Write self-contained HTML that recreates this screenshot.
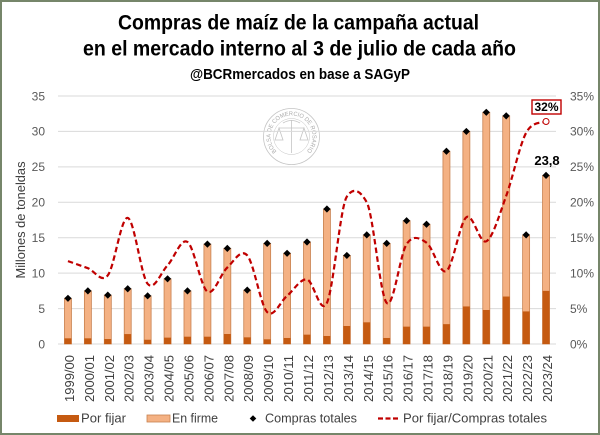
<!DOCTYPE html>
<html><head><meta charset="utf-8"><style>
html,body{margin:0;padding:0;background:#fff;}
svg{display:block;}
text{font-family:"Liberation Sans",Arial,sans-serif;}
</style></head><body>
<svg width="600" height="435" viewBox="0 0 600 435" xmlns="http://www.w3.org/2000/svg">
<rect x="0" y="0" width="600" height="435" fill="#fff"/>
<rect x="1" y="1" width="598" height="433" fill="none" stroke="#76866A" stroke-width="2"/>

<!-- Title -->
<text x="118" y="29.5" font-size="21" font-weight="bold" fill="#000" textLength="361" lengthAdjust="spacingAndGlyphs">Compras de maíz de la campaña actual</text>
<text x="83" y="55.5" font-size="21" font-weight="bold" fill="#000" textLength="433" lengthAdjust="spacingAndGlyphs">en el mercado interno al 3 de julio de cada año</text>
<text x="190" y="79" font-size="15" font-weight="bold" fill="#000" textLength="220" lengthAdjust="spacingAndGlyphs">@BCRmercados en base a SAGyP</text>

<!-- Watermark -->
<g fill="none" stroke="#C4C4C4" stroke-width="0.8">
<circle cx="291.5" cy="136.5" r="28"/>
<circle cx="291.5" cy="136.5" r="18" stroke-width="0.5"/>
<line x1="291.5" y1="120" x2="291.5" y2="153"/>
<line x1="279" y1="128" x2="304" y2="128"/>
<path d="M279 128 L275 140 L283 140 Z M304 128 L300 140 L308 140 Z"/>
<path d="M283 123 Q291.5 118 300 123"/>
</g>
<defs><path id="wm" d="M276.66 151.35 A21 21 0 1 1 306.34 151.35"/></defs>
<text font-size="6" fill="#ABABAB"><textPath href="#wm" textLength="98" lengthAdjust="spacingAndGlyphs">BOLSA DE COMERCIO DE ROSARIO</textPath></text>

<!-- Grid -->
<g stroke="#D9D9D9" stroke-width="1">
<line x1="58" y1="96" x2="556" y2="96"/>
<line x1="58" y1="131.43" x2="556" y2="131.43"/>
<line x1="58" y1="166.86" x2="556" y2="166.86"/>
<line x1="58" y1="202.29" x2="556" y2="202.29"/>
<line x1="58" y1="237.71" x2="556" y2="237.71"/>
<line x1="58" y1="273.14" x2="556" y2="273.14"/>
<line x1="58" y1="308.57" x2="556" y2="308.57"/>
<line x1="58" y1="344" x2="556" y2="344"/>
</g>

<!-- Left axis labels -->
<g font-size="12" fill="#595959" text-anchor="end">
<text x="45" y="100.3">35</text>
<text x="45" y="135.7">30</text>
<text x="45" y="171.2">25</text>
<text x="45" y="206.6">20</text>
<text x="45" y="242">15</text>
<text x="45" y="277.4">10</text>
<text x="45" y="312.9">5</text>
<text x="45" y="348.3">0</text>
</g>
<!-- Right axis labels -->
<g font-size="12" fill="#595959">
<text x="570" y="100.3">35%</text>
<text x="570" y="135.7">30%</text>
<text x="570" y="171.2">25%</text>
<text x="570" y="206.6">20%</text>
<text x="570" y="242">15%</text>
<text x="570" y="277.4">10%</text>
<text x="570" y="312.9">5%</text>
<text x="570" y="348.3">0%</text>
</g>

<!-- Y axis title -->
<text transform="translate(25,220) rotate(-90)" font-size="13" fill="#404040" text-anchor="middle" textLength="117" lengthAdjust="spacingAndGlyphs">Millones de toneldas</text>

<!-- Bars: En firme (total) -->
<g fill="#F4B183" stroke="#C8814F" stroke-width="0.8">
<rect x="64.46" y="298.3" width="7" height="45.7"/>
<rect x="84.38" y="290.86" width="7" height="53.14"/>
<rect x="104.3" y="295.11" width="7" height="48.89"/>
<rect x="124.22" y="288.73" width="7" height="55.27"/>
<rect x="144.14" y="295.82" width="7" height="48.18"/>
<rect x="164.06" y="278.81" width="7" height="65.19"/>
<rect x="183.98" y="290.86" width="7" height="53.14"/>
<rect x="203.9" y="244.09" width="7" height="99.91"/>
<rect x="223.82" y="248.34" width="7" height="95.66"/>
<rect x="243.74" y="290.15" width="7" height="53.85"/>
<rect x="263.66" y="243.38" width="7" height="100.62"/>
<rect x="283.58" y="253.3" width="7" height="90.7"/>
<rect x="303.5" y="241.97" width="7" height="102.03"/>
<rect x="323.42" y="209.02" width="7" height="134.98"/>
<rect x="343.34" y="255.43" width="7" height="88.57"/>
<rect x="363.26" y="234.88" width="7" height="109.12"/>
<rect x="383.18" y="243.38" width="7" height="100.62"/>
<rect x="403.1" y="220.71" width="7" height="123.29"/>
<rect x="423.02" y="224.25" width="7" height="119.75"/>
<rect x="442.94" y="151.27" width="7" height="192.73"/>
<rect x="462.86" y="131.43" width="7" height="212.57"/>
<rect x="482.78" y="112.3" width="7" height="231.7"/>
<rect x="502.7" y="115.84" width="7" height="228.16"/>
<rect x="522.62" y="234.88" width="7" height="109.12"/>
<rect x="542.54" y="175.36" width="7" height="168.64"/>
</g>
<!-- Bars: Por fijar -->
<g fill="#C55A11">
<rect x="64.46" y="338.33" width="7" height="5.67"/>
<rect x="84.38" y="338.33" width="7" height="5.67"/>
<rect x="104.3" y="339.04" width="7" height="4.96"/>
<rect x="124.22" y="334.08" width="7" height="9.92"/>
<rect x="144.14" y="339.75" width="7" height="4.25"/>
<rect x="164.06" y="337.62" width="7" height="6.38"/>
<rect x="183.98" y="336.7" width="7" height="7.3"/>
<rect x="203.9" y="336.7" width="7" height="7.3"/>
<rect x="223.82" y="334.01" width="7" height="9.99"/>
<rect x="243.74" y="337.34" width="7" height="6.66"/>
<rect x="263.66" y="339.32" width="7" height="4.68"/>
<rect x="283.58" y="337.98" width="7" height="6.02"/>
<rect x="303.5" y="334.65" width="7" height="9.35"/>
<rect x="323.42" y="335.99" width="7" height="8.01"/>
<rect x="343.34" y="326" width="7" height="18"/>
<rect x="363.26" y="322.32" width="7" height="21.68"/>
<rect x="383.18" y="337.98" width="7" height="6.02"/>
<rect x="403.1" y="326.64" width="7" height="17.36"/>
<rect x="423.02" y="326.64" width="7" height="17.36"/>
<rect x="442.94" y="324.16" width="7" height="19.84"/>
<rect x="462.86" y="306.45" width="7" height="37.55"/>
<rect x="482.78" y="309.99" width="7" height="34.01"/>
<rect x="502.7" y="296.53" width="7" height="47.47"/>
<rect x="522.62" y="311.41" width="7" height="32.59"/>
<rect x="542.54" y="290.86" width="7" height="53.14"/>
</g>

<!-- Ratio line -->
<path fill="none" stroke="#C00000" stroke-width="2.2" stroke-dasharray="5.5 3.2" d="M67.96 261.1
C71.28 262.28 81.24 265.83 87.88 268.2
C94.52 270.57 101.16 283.68 107.8 275.3
C114.44 266.92 121.08 216.48 127.72 217.9
C134.36 219.32 141 275.9 147.64 283.8
C154.28 291.7 160.92 272.27 167.56 265.3
C174.2 258.33 180.84 237.62 187.48 242
C194.12 246.38 200.76 287.35 207.4 291.6
C214.04 295.85 220.68 273.53 227.32 267.5
C233.96 261.47 240.6 247.97 247.24 255.4
C253.88 262.83 260.52 305.37 267.16 312.1
C273.8 318.83 280.44 301.23 287.08 295.8
C293.72 290.37 300.36 278.32 307 279.5
C313.64 280.68 320.28 316.72 326.92 302.9
C333.56 289.08 340.2 206.6 346.84 196.6
C353.48 186.6 360.12 190.3 366.76 202.3
C373.4 214.3 380.04 295.93 386.68 302.9
C393.32 309.87 399.96 254.13 406.6 244.1
C413.24 234.07 419.88 238.22 426.52 242.7
C433.16 247.18 439.8 275.25 446.44 271
C453.08 266.75 459.72 222.15 466.36 217.2
C473 212.25 479.64 244.85 486.28 241.3
C492.92 237.75 499.56 213.98 506.2 195.9
C512.84 177.82 519.48 145.2 526.12 132.8
C532.76 120.4 542.72 123.38 546.04 121.5"/>
<circle cx="546.04" cy="121.5" r="3" fill="#fff" stroke="#C00000" stroke-width="1"/>

<!-- Diamonds -->
<g fill="#000">
<path d="M0 -3.6L3.6 0L0 3.6L-3.6 0Z" transform="translate(67.96,298.3)"/>
<path d="M0 -3.6L3.6 0L0 3.6L-3.6 0Z" transform="translate(87.88,290.86)"/>
<path d="M0 -3.6L3.6 0L0 3.6L-3.6 0Z" transform="translate(107.8,295.11)"/>
<path d="M0 -3.6L3.6 0L0 3.6L-3.6 0Z" transform="translate(127.72,288.73)"/>
<path d="M0 -3.6L3.6 0L0 3.6L-3.6 0Z" transform="translate(147.64,295.82)"/>
<path d="M0 -3.6L3.6 0L0 3.6L-3.6 0Z" transform="translate(167.56,278.81)"/>
<path d="M0 -3.6L3.6 0L0 3.6L-3.6 0Z" transform="translate(187.48,290.86)"/>
<path d="M0 -3.6L3.6 0L0 3.6L-3.6 0Z" transform="translate(207.4,244.09)"/>
<path d="M0 -3.6L3.6 0L0 3.6L-3.6 0Z" transform="translate(227.32,248.34)"/>
<path d="M0 -3.6L3.6 0L0 3.6L-3.6 0Z" transform="translate(247.24,290.15)"/>
<path d="M0 -3.6L3.6 0L0 3.6L-3.6 0Z" transform="translate(267.16,243.38)"/>
<path d="M0 -3.6L3.6 0L0 3.6L-3.6 0Z" transform="translate(287.08,253.3)"/>
<path d="M0 -3.6L3.6 0L0 3.6L-3.6 0Z" transform="translate(307,241.97)"/>
<path d="M0 -3.6L3.6 0L0 3.6L-3.6 0Z" transform="translate(326.92,209.02)"/>
<path d="M0 -3.6L3.6 0L0 3.6L-3.6 0Z" transform="translate(346.84,255.43)"/>
<path d="M0 -3.6L3.6 0L0 3.6L-3.6 0Z" transform="translate(366.76,234.88)"/>
<path d="M0 -3.6L3.6 0L0 3.6L-3.6 0Z" transform="translate(386.68,243.38)"/>
<path d="M0 -3.6L3.6 0L0 3.6L-3.6 0Z" transform="translate(406.6,220.71)"/>
<path d="M0 -3.6L3.6 0L0 3.6L-3.6 0Z" transform="translate(426.52,224.25)"/>
<path d="M0 -3.6L3.6 0L0 3.6L-3.6 0Z" transform="translate(446.44,151.27)"/>
<path d="M0 -3.6L3.6 0L0 3.6L-3.6 0Z" transform="translate(466.36,131.43)"/>
<path d="M0 -3.6L3.6 0L0 3.6L-3.6 0Z" transform="translate(486.28,112.3)"/>
<path d="M0 -3.6L3.6 0L0 3.6L-3.6 0Z" transform="translate(506.2,115.84)"/>
<path d="M0 -3.6L3.6 0L0 3.6L-3.6 0Z" transform="translate(526.12,234.88)"/>
<path d="M0 -3.6L3.6 0L0 3.6L-3.6 0Z" transform="translate(546.04,175.36)"/>
</g>

<!-- Data labels -->
<rect x="532" y="100" width="29" height="14" fill="#fff" stroke="#C00000" stroke-width="1.4"/>
<text x="546.5" y="111" font-size="12" font-weight="bold" fill="#000" text-anchor="middle">32%</text>
<text x="547" y="165" font-size="13" font-weight="bold" fill="#000" text-anchor="middle">23,8</text>

<!-- X axis labels -->
<g font-size="13" fill="#404040" text-anchor="end">
<text transform="translate(74,355) rotate(-90)" textLength="47" lengthAdjust="spacingAndGlyphs">1999/00</text>
<text transform="translate(93.88,355) rotate(-90)" textLength="47" lengthAdjust="spacingAndGlyphs">2000/01</text>
<text transform="translate(113.8,355) rotate(-90)" textLength="47" lengthAdjust="spacingAndGlyphs">2001/02</text>
<text transform="translate(133.72,355) rotate(-90)" textLength="47" lengthAdjust="spacingAndGlyphs">2002/03</text>
<text transform="translate(153.64,355) rotate(-90)" textLength="47" lengthAdjust="spacingAndGlyphs">2003/04</text>
<text transform="translate(173.56,355) rotate(-90)" textLength="47" lengthAdjust="spacingAndGlyphs">2004/05</text>
<text transform="translate(193.48,355) rotate(-90)" textLength="47" lengthAdjust="spacingAndGlyphs">2005/06</text>
<text transform="translate(213.4,355) rotate(-90)" textLength="47" lengthAdjust="spacingAndGlyphs">2006/07</text>
<text transform="translate(233.32,355) rotate(-90)" textLength="47" lengthAdjust="spacingAndGlyphs">2007/08</text>
<text transform="translate(253.24,355) rotate(-90)" textLength="47" lengthAdjust="spacingAndGlyphs">2008/09</text>
<text transform="translate(273.16,355) rotate(-90)" textLength="47" lengthAdjust="spacingAndGlyphs">2009/10</text>
<text transform="translate(293.08,355) rotate(-90)" textLength="47" lengthAdjust="spacingAndGlyphs">2010/11</text>
<text transform="translate(313,355) rotate(-90)" textLength="47" lengthAdjust="spacingAndGlyphs">2011/12</text>
<text transform="translate(332.92,355) rotate(-90)" textLength="47" lengthAdjust="spacingAndGlyphs">2012/13</text>
<text transform="translate(352.84,355) rotate(-90)" textLength="47" lengthAdjust="spacingAndGlyphs">2013/14</text>
<text transform="translate(372.76,355) rotate(-90)" textLength="47" lengthAdjust="spacingAndGlyphs">2014/15</text>
<text transform="translate(392.68,355) rotate(-90)" textLength="47" lengthAdjust="spacingAndGlyphs">2015/16</text>
<text transform="translate(412.6,355) rotate(-90)" textLength="47" lengthAdjust="spacingAndGlyphs">2016/17</text>
<text transform="translate(432.52,355) rotate(-90)" textLength="47" lengthAdjust="spacingAndGlyphs">2017/18</text>
<text transform="translate(452.44,355) rotate(-90)" textLength="47" lengthAdjust="spacingAndGlyphs">2018/19</text>
<text transform="translate(472.36,355) rotate(-90)" textLength="47" lengthAdjust="spacingAndGlyphs">2019/20</text>
<text transform="translate(492.28,355) rotate(-90)" textLength="47" lengthAdjust="spacingAndGlyphs">2020/21</text>
<text transform="translate(512.2,355) rotate(-90)" textLength="47" lengthAdjust="spacingAndGlyphs">2021/22</text>
<text transform="translate(532.12,355) rotate(-90)" textLength="47" lengthAdjust="spacingAndGlyphs">2022/23</text>
<text transform="translate(552.04,355) rotate(-90)" textLength="47" lengthAdjust="spacingAndGlyphs">2023/24</text>
</g>

<!-- Legend -->
<rect x="57" y="415" width="22" height="7" fill="#C55A11"/>
<text x="81" y="422.5" font-size="13" fill="#404040" textLength="45" lengthAdjust="spacingAndGlyphs">Por fijar</text>
<rect x="147" y="415" width="23" height="7" fill="#F4B183" stroke="#C8814F" stroke-width="0.8"/>
<text x="172" y="422.5" font-size="13" fill="#404040" textLength="46" lengthAdjust="spacingAndGlyphs">En firme</text>
<path d="M0 -3.3L3.3 0L0 3.3L-3.3 0Z" transform="translate(253,418.5)" fill="#000"/>
<text x="265" y="422.5" font-size="13" fill="#404040" textLength="92" lengthAdjust="spacingAndGlyphs">Compras totales</text>
<line x1="378" y1="418.5" x2="398" y2="418.5" stroke="#C00000" stroke-width="2.2" stroke-dasharray="5 2.5"/>
<text x="403" y="422.5" font-size="13" fill="#404040" textLength="144" lengthAdjust="spacingAndGlyphs">Por fijar/Compras totales</text>
</svg>
</body></html>
